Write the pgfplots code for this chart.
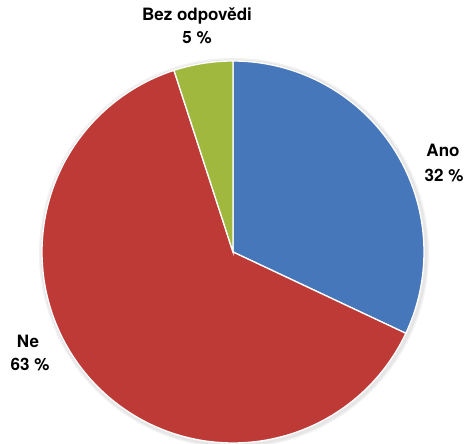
\documentclass[border=0pt]{standalone}
\usepackage{pgfplots}
\pgfplotsset{compat=1.18}
\usepackage{fontspec}
\setmainfont{TeX Gyre Heros}
\definecolor{cAno}{HTML}{4677BA}
\definecolor{cNe}{HTML}{BE3A37}
\definecolor{cBez}{HTML}{A0B83E}
\tikzset{lbl/.style={anchor=base, inner sep=0pt, font=\fontsize{17}{20}\selectfont\bfseries}}
\begin{document}
\begin{tikzpicture}
\useasboundingbox (0,0) rectangle (472pt,444pt);
% data: percentages
\def\vAno{32}
\def\vNe{63}
\def\vBez{5}
\pgfmathsetmacro{\aA}{90}
\pgfmathsetmacro{\aB}{90-3.6*\vAno}
\pgfmathsetmacro{\aC}{\aB-3.6*\vNe}
\pgfmathsetmacro{\aD}{\aC-3.6*\vBez}
\begin{axis}[
  scale only axis, width=472pt, height=444pt,
  xmin=0, xmax=472, ymin=0, ymax=444,
  hide axis, clip=false,
]
% soft shadow
\fill[black, opacity=0.05] (axis cs:234,191) circle[radius=195pt];
\fill[black, opacity=0.05] (axis cs:234,191) circle[radius=193.5pt];
\addplot[fill=cAno, draw=white, line width=1.3pt, domain=\aA:\aB, samples=90, variable=\t]
  ({233+191*cos(\t)},{192+191*sin(\t)}) -- (axis cs:233,192) -- cycle;
\addplot[fill=cNe, draw=white, line width=1.3pt, domain=\aB:\aC, samples=150, variable=\t]
  ({233+191*cos(\t)},{192+191*sin(\t)}) -- (axis cs:233,192) -- cycle;
\addplot[fill=cBez, draw=white, line width=1.3pt, domain=\aC:\aD, samples=20, variable=\t]
  ({233+191*cos(\t)},{192+191*sin(\t)}) -- (axis cs:233,192) -- cycle;
\node[lbl] at (axis cs:197,423.5) {Bez odpovědi};
\node[lbl] at (axis cs:197,400.7) {5 \%};
\node[lbl] at (axis cs:443,287.3) {Ano};
\node[lbl] at (axis cs:444,262.3) {32 \%};
\node[lbl] at (axis cs:28,96.7) {Ne};
\node[lbl] at (axis cs:30,73.3) {63 \%};
\end{axis}
\end{tikzpicture}
\end{document}
